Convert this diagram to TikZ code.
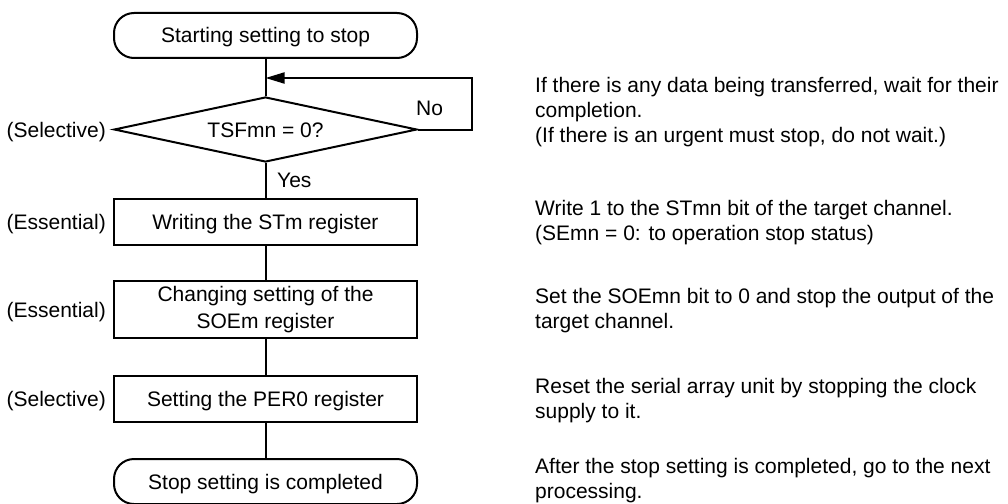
\documentclass[tikz,border=0pt]{standalone}
\usepackage{fontspec}
\setmainfont{Liberation Sans}
\usetikzlibrary{shapes.geometric,arrows.meta}
\begin{document}
\begin{tikzpicture}[x=1pt,y=-1pt,
  every node/.style={font=\fontsize{21}{25}\selectfont, inner sep=0pt},
  capc/.style={text height=15pt, text depth=0pt},
  line/.style={line width=2pt},
  term/.style={draw, line width=2pt, rounded corners=20pt, minimum width=303pt, minimum height=45pt, capc},
  procbox/.style={draw, line width=2pt, minimum width=303pt, align=center},
  decis/.style={draw, line width=2pt, diamond, aspect=4.66, minimum width=303pt, minimum height=65pt, capc},
  side/.style={anchor=east, capc},
  note/.style={anchor=base west, align=left}
]
\useasboundingbox (0,0) rectangle (1008,503);
\node[term] (start) at (265.5,35.5) {Starting setting to stop};
\node[decis] (dec) at (265.5,129.5) {TSFmn = 0?};
\node[procbox, capc, minimum height=46pt] (b1) at (265.5,221.5) {Writing the STm register};
\node[procbox, minimum height=57pt] (b2) at (265.5,309.5) {Changing setting of the\\[2pt]SOEm register};
\node[procbox, capc, minimum height=46pt] (b3) at (265.5,399) {Setting the PER0 register};
\node[term] (stop) at (265.5,481.5) {Stop setting is completed};

\coordinate (loopin) at (265.5,78);
\coordinate (loopc) at (472,78);
\draw[line] (start) -- (dec);
\draw[line, -{Triangle[length=19pt,width=11pt]}] (dec.east) -| (loopc) -- (loopin);
\draw[line] (dec) -- (b1);
\draw[line] (b1) -- (b2);
\draw[line] (b2) -- (b3);
\draw[line] (b3) -- (stop);

\node[anchor=west, capc] (no) at (416,108) {No};
\node[anchor=west, capc] (yes) at (277,180) {Yes};

\node[side] (l0) at ([xshift=-7pt]dec.west) {(Selective)};
\node[side] (l1) at ([xshift=-7pt]b1.west) {(Essential)};
\node[side] (l2) at ([xshift=-7pt]b2.west) {(Essential)};
\node[side] (l3) at ([xshift=-7pt]b3.west) {(Selective)};

\node[note] (n1) at (535,142) {If there is any data being transferred, wait for their\\completion.\\(If there is an urgent must stop, do not wait.)};
\node[note] (n2) at (535,240) {Write 1 to the STmn bit of the target channel.\\(SEmn = 0: to operation stop status)};
\node[note] (n3) at (535,328) {Set the SOEmn bit to 0 and stop the output of the\\target channel.};
\node[note] (n4) at (535,418) {Reset the serial array unit by stopping the clock\\supply to it.};
\node[note] (n5) at (535,498.5) {After the stop setting is completed, go to the next\\processing.};
\end{tikzpicture}
\end{document}
